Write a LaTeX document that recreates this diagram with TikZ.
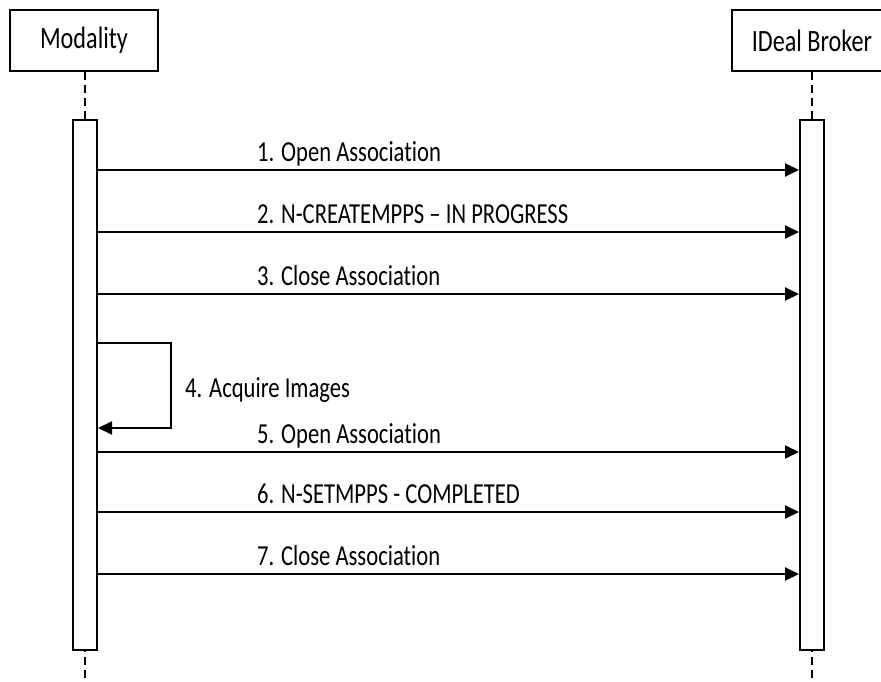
\documentclass[tikz,border=0pt]{standalone}
\usepackage{fontspec}
\setmainfont[FakeStretch=0.78,Ligatures=NoCommon]{Carlito}
\usetikzlibrary{arrows.meta}
\begin{document}
\begin{tikzpicture}[x=1pt,y=-1pt,
  head/.style={draw,line width=2pt,minimum width=148pt,minimum height=61pt,inner sep=0pt,font=\fontsize{31}{31}\selectfont},
  act/.style={draw,fill=white,line width=2pt,minimum width=24pt,minimum height=530pt,inner sep=0pt},
  life/.style={line width=2pt,dash pattern=on 8pt off 5pt},
  msg/.style={line width=2pt,-{Triangle[length=14pt,width=13pt]}},
  lbl/.style={anchor=base west,inner sep=0pt,font=\fontsize{29}{29}\selectfont}]
\useasboundingbox (0,0) rectangle (881,682);
\clip (0,0) rectangle (881,682);
\node[head] (mod) at (84,40.5) {Modality};
\node[head,minimum width=160pt] (brk) at (812,40.5) {IDeal Broker};
\coordinate (modend) at (85,682);
\coordinate (brkend) at (812,682);
\draw[life] (mod.south -| 85,0) -- (modend);
\draw[life] (brk.south) -- (brkend);
\node[act] (ma) at (85,385) {};
\node[act] (ba) at (812,385) {};
% messages
\foreach \i/\y/\t in {1/170/{1. Open Association},2/232/{2. N-CREATEMPPS -- IN PROGRESS},3/294/{3. Close Association},5/452/{5. Open Association},6/512/{6. N-SETMPPS - COMPLETED},7/574/{7. Close Association}}{
  \coordinate (s\i) at (ma.east |- 0,\y);
  \coordinate (e\i) at (ba.west |- 0,\y);
  \draw[msg] (s\i) -- (e\i);
  \node[lbl] (l\i) at (257,\y-8.5) {\t};
}
% self message
\coordinate (s4) at (ma.east |- 0,343);
\coordinate (e4) at (ma.east |- 0,428);
\draw[msg] (s4) -- (171,343) -- (171,428) -- (e4);
\node[lbl] (l4) at (185,397) {4. Acquire Images};
\end{tikzpicture}
\end{document}
